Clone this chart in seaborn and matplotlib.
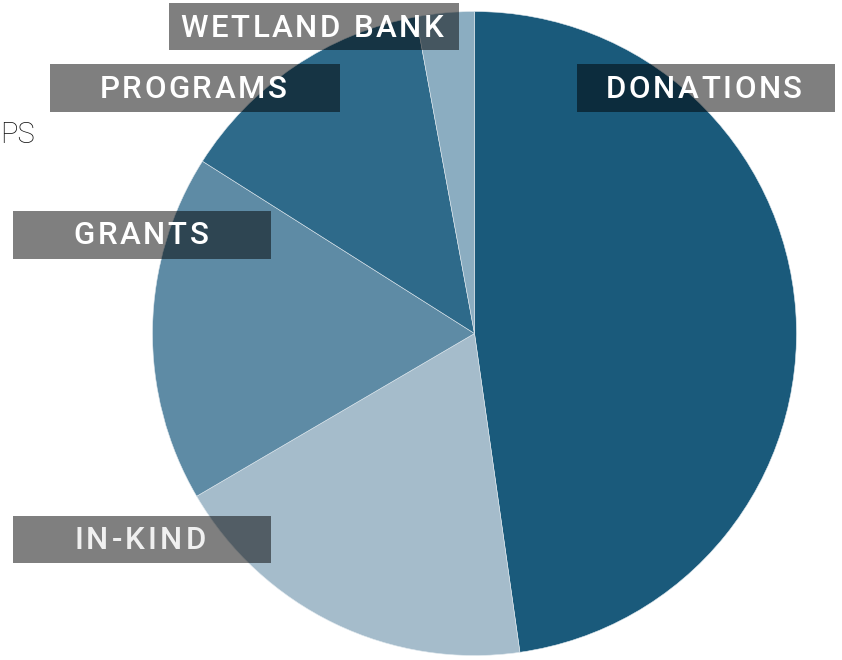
import seaborn as sns
import matplotlib
matplotlib.use("Agg")
import matplotlib.pyplot as plt
from matplotlib.patches import Rectangle
from matplotlib.font_manager import FontProperties, findfont, get_font

# revenue sources, clockwise from 12 o'clock (percent of total)
categories = ["DONATIONS", "IN-KIND", "GRANTS", "PROGRAMS", "WETLAND BANK"]
shares = [47.7, 18.8, 17.4, 13.1, 2.9]
colors = ["#1a5a7b", "#a5bccb", "#5e8ba5", "#2e6a8a", "#8badc1"]

W, H = 842, 660

sns.set_theme(style="white")
plt.rcParams["font.family"] = ["Roboto", "DejaVu Sans"]

fig = plt.figure(figsize=(W / 100, H / 100), dpi=100)
ax = fig.add_axes([0, 0, 1, 1])

ax.pie(shares, colors=colors, startangle=90, counterclock=False,
       center=(474.5, H - 333.5), radius=322, frame=True,
       wedgeprops=dict(edgecolor="#dfe8ee", linewidth=0.4))
ax.set_xlim(0, W)
ax.set_ylim(0, H)
ax.axis("off")


def spaced_text(s, cx, base, size=22.5, weight="medium", spacing=3.0, color="white"):
    # matplotlib has no letter spacing, so place glyphs one by one
    prop = FontProperties(family="Roboto", weight=weight, size=size)
    font = get_font(findfont(prop))
    font.set_size(size, 100)
    advs = [font.load_char(ord(c)).linearHoriAdvance / 65536 for c in s]
    total = sum(advs) + spacing * (len(s) - 1)
    x = cx - total / 2
    for c, a in zip(s, advs):
        if c != " ":
            ax.text(x, H - base, c, fontproperties=prop,
                    color=color, ha="left", va="baseline", zorder=6)
        x += a + spacing


# label boxes: (x0, y0, x1, y1) in pixels, text centre x, baseline y
boxes = {
    "WETLAND BANK": ((169, 3, 459, 50), 312, 37),
    "PROGRAMS": ((50, 64, 340, 112), 193, 97.5),
    "DONATIONS": ((577, 64, 835, 112), 704, 97.5),
    "GRANTS": ((13, 211, 271, 259), 141, 244),
    "IN-KIND": ((13, 516, 271, 563), 140, 549),
}

for name in categories:
    (x0, y0, x1, y1), cx, base = boxes[name]
    ax.add_patch(Rectangle((x0, H - y1), x1 - x0, y1 - y0, facecolor="black",
                           alpha=0.5, edgecolor="none", zorder=5))
    if name == "IN-KIND":
        spaced_text(name, cx, base, spacing=3.2, color="#f0f0f0")
    else:
        spaced_text(name, cx, base, spacing=2.6)

# text at the left edge
ax.text(0, H - 143, "PS", ha="left", va="baseline", fontsize=21,
        fontweight="light", family="Roboto", color="#111111")

fig.savefig("out.png", dpi=100)
